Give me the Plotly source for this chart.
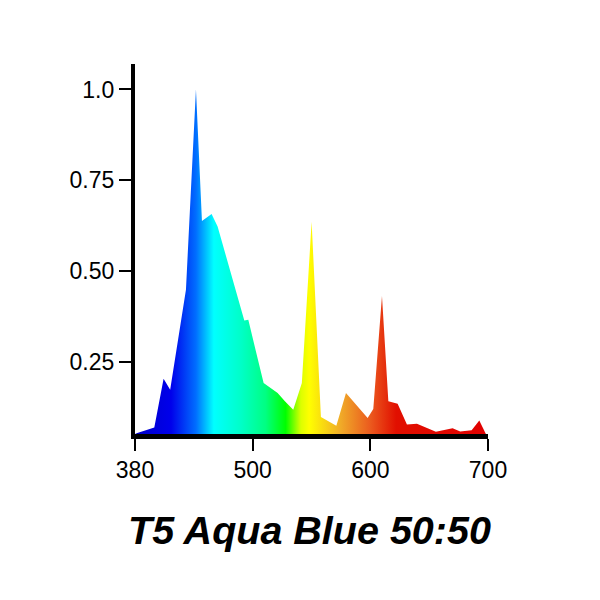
import plotly.graph_objects as go

# Wavelength positions (axis units) and relative intensity
wavelength = [400, 402, 416.4, 424.3, 429.9, 443.3, 451.8, 456.9, 465.1, 470.2, 492.9, 496.3,
              509.3, 521.2, 527.4, 534.5, 541.8, 550.1, 558.0, 571.1, 579.3, 597.7, 602.5,
              609.9, 615.3, 623.2, 631.1, 639.6, 655.7, 669.9, 676.4, 686.1, 692.6, 698.2]
intensity = [0.052, 0.055, 0.070, 0.204, 0.174, 0.449, 1.0, 0.638, 0.657, 0.623, 0.364, 0.366,
             0.192, 0.165, 0.142, 0.119, 0.192, 0.636, 0.099, 0.075, 0.165, 0.096, 0.121,
             0.432, 0.142, 0.135, 0.078, 0.080, 0.058, 0.068, 0.059, 0.062, 0.089, 0.052]

tick_vals = [400, 500, 600, 700]
tick_text = ["380", "500", "600", "700"]
y_tick_vals = [0.25, 0.5, 0.75, 1.0]
y_tick_text = ["0.25", "0.50", "0.75", "1.0"]
title_text = "T5 Aqua Blue 50:50"

# spectrum gradient stops (wavelength, colour)
grad_nm = [400, 413.6, 430.6, 451.8, 467, 490, 511, 528, 541, 548, 575, 600, 622, 700]
grad_col = ["rgb(0,0,200)", "rgb(0,0,215)", "rgb(0,0,235)", "rgb(0,110,255)", "rgb(0,255,255)",
            "rgb(0,255,200)", "rgb(0,255,130)", "rgb(0,255,0)", "rgb(220,255,0)",
            "rgb(255,255,0)", "rgb(240,170,40)", "rgb(235,90,30)", "rgb(225,15,0)",
            "rgb(225,0,0)"]
x0, x1 = 400, 700
colorscale = [[(w - x0) / (x1 - x0), c] for w, c in zip(grad_nm, grad_col)]

fig = go.Figure()
fig.add_trace(go.Scatter(
    x=wavelength, y=intensity, mode="lines",
    line=dict(width=0),
    fill="tozeroy",
    fillgradient=dict(type="horizontal", colorscale=colorscale, start=x0, stop=x1),
    hoverinfo="skip",
))

W, H = 600, 600
ML, MR, MT, MB = 127, 120, 56, 174
font_family = "Liberation Sans, Arial, Helvetica, sans-serif"
plot_w = W - ML - MR
plot_h = H - MT - MB
fig.update_layout(
    width=W, height=H,
    paper_bgcolor="white", plot_bgcolor="white",
    margin=dict(l=ML, r=MR, t=MT, b=MB),
    showlegend=False,
    font=dict(family=font_family, size=23, color="black"),
    xaxis=dict(range=[400, 700], tickvals=tick_vals, ticktext=tick_text,
               showgrid=False, zeroline=False, showline=True, linecolor="black",
               linewidth=4.5, ticks="outside", ticklen=12, tickwidth=2, tickcolor="black",
               tickfont=dict(size=23)),
    yaxis=dict(range=[0.052, 1.07], tickvals=y_tick_vals, ticktext=y_tick_text,
               showgrid=False, zeroline=False, showline=True, linecolor="black",
               linewidth=4.3, ticks="outside", ticklen=12, tickwidth=2, tickcolor="black",
               tickfont=dict(size=23)),
    annotations=[dict(text="<b><i>" + title_text + "</i></b>",
                      x=(301.5 - ML) / plot_w, xref="paper",
                      y=(H - MB - 521.5) / plot_h, yref="paper",
                      xanchor="center", yanchor="middle", showarrow=False,
                      font=dict(size=39.5, family=font_family, color="black"))],
)

fig.write_html("out.html")
